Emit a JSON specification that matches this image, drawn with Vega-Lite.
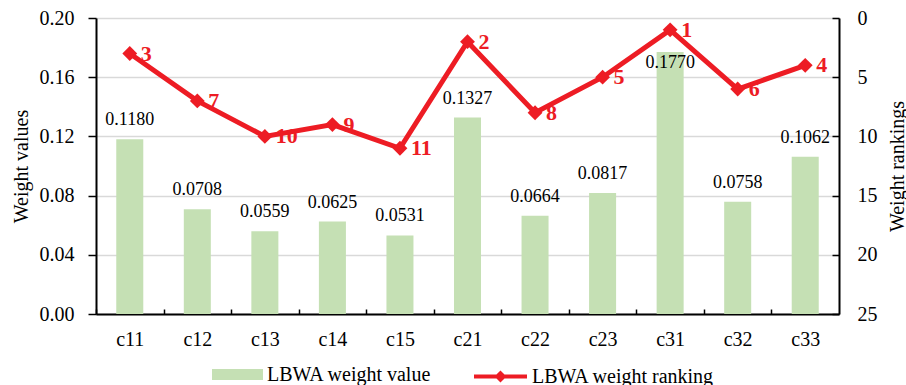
{
  "$schema": "https://vega.github.io/schema/vega-lite/v6.json",
  "width": 743,
  "height": 296,
  "autosize": {"type": "none"},
  "padding": {"left": 96, "top": 18, "right": 67, "bottom": 71},
  "background": "white",
  "config": {
    "font": "Liberation Serif",
    "view": {"stroke": null},
    "axis": {
      "labelFont": "Liberation Serif",
      "titleFont": "Liberation Serif",
      "labelColor": "#000000",
      "titleColor": "#000000",
      "labelFontSize": 20,
      "titleFontSize": 20,
      "titleFontWeight": "normal",
      "domainColor": "#000000",
      "domainWidth": 2,
      "tickColor": "#000000",
      "tickWidth": 1.5
    },
    "legend": {
      "labelFont": "Liberation Serif",
      "labelFontSize": 20,
      "labelColor": "#000000",
      "labelLimit": 400
    }
  },
  "data": {
    "values": [
      {"criterion": "c11", "weight": 0.1180, "rank": 3},
      {"criterion": "c12", "weight": 0.0708, "rank": 7},
      {"criterion": "c13", "weight": 0.0559, "rank": 10},
      {"criterion": "c14", "weight": 0.0625, "rank": 9},
      {"criterion": "c15", "weight": 0.0531, "rank": 11},
      {"criterion": "c21", "weight": 0.1327, "rank": 2},
      {"criterion": "c22", "weight": 0.0664, "rank": 8},
      {"criterion": "c23", "weight": 0.0817, "rank": 5},
      {"criterion": "c31", "weight": 0.1770, "rank": 1},
      {"criterion": "c32", "weight": 0.0758, "rank": 6},
      {"criterion": "c33", "weight": 0.1062, "rank": 4}
    ]
  },
  "encoding": {
    "x": {
      "field": "criterion",
      "type": "nominal",
      "sort": null,
      "scale": {"paddingInner": 0.6, "paddingOuter": 0.3},
      "axis": {
        "title": null,
        "labelAngle": 0,
        "ticks": true,
        "tickSize": -5,
        "tickOffset": -33.75,
        "labelOffset": 33.75,
        "labelPadding": 30,
        "labelBaseline": "middle"
      }
    }
  },
  "layer": [
    {
      "encoding": {
        "y": {
          "field": "weight",
          "type": "quantitative",
          "scale": {"domain": [0, 0.2], "nice": false},
          "axis": {
            "title": "Weight values",
            "values": [0, 0.04, 0.08, 0.12, 0.16, 0.2],
            "format": ".2f",
            "grid": true,
            "gridColor": "#D9D9D9",
            "gridWidth": 1.3,
            "tickSize": 8,
            "labelPadding": 14,
            "titlePadding": 8
          }
        }
      },
      "layer": [
        {
          "mark": {"type": "bar"},
          "encoding": {
            "fill": {
              "datum": "LBWA weight value",
              "type": "nominal",
              "scale": {"range": ["#C5E0B4"]},
              "legend": {
                "title": null,
                "orient": "none",
                "legendX": 116,
                "legendY": 331,
                "symbolType": "M-1,-0.216H1V0.216H-1Z",
                "symbolSize": 2601,
                "symbolStrokeWidth": 0,
                "labelOffset": 4
              }
            }
          }
        },
        {
          "transform": [{"filter": "datum.weight < 0.15"}],
          "mark": {
            "type": "text",
            "fontSize": 18,
            "color": "#000000",
            "baseline": "alphabetic",
            "dy": -14
          },
          "encoding": {
            "text": {"field": "weight", "type": "quantitative", "format": ".4f"}
          }
        },
        {
          "transform": [{"filter": "datum.weight >= 0.15"}],
          "mark": {
            "type": "text",
            "fontSize": 18,
            "color": "#000000",
            "baseline": "alphabetic",
            "dy": 16
          },
          "encoding": {
            "text": {"field": "weight", "type": "quantitative", "format": ".4f"}
          }
        }
      ]
    },
    {
      "encoding": {
        "y": {
          "field": "rank",
          "type": "quantitative",
          "scale": {"domain": [0, 25], "reverse": true, "nice": false},
          "axis": {
            "orient": "right",
            "title": "Weight rankings",
            "titleAngle": 270,
            "titleBaseline": "top",
            "values": [0, 5, 10, 15, 20, 25],
            "grid": false,
            "tickSize": -7,
            "labelPadding": 25,
            "titlePadding": 10
          }
        }
      },
      "layer": [
        {
          "mark": {"type": "line", "strokeWidth": 5},
          "encoding": {
            "stroke": {
              "datum": "LBWA weight ranking",
              "type": "nominal",
              "scale": {"range": ["#ED1C24"]},
              "legend": {
                "title": null,
                "orient": "none",
                "legendX": 376,
                "legendY": 330,
                "symbolType": "M-1,0H1M-0.12,0L0,-0.12L0.12,0L0,0.12Z",
                "symbolSize": 2809,
                "symbolStrokeWidth": 4,
                "symbolFillColor": "#ED1C24",
                "labelOffset": 3
              }
            }
          }
        },
        {
          "mark": {"type": "point", "shape": "diamond", "filled": true, "size": 220, "color": "#ED1C24", "opacity": 1}
        },
        {
          "mark": {
            "type": "text",
            "fontSize": 22,
            "fontWeight": "bold",
            "color": "#ED1C24",
            "align": "left",
            "baseline": "alphabetic",
            "dx": 11,
            "dy": 7
          },
          "encoding": {
            "text": {"field": "rank", "type": "quantitative"}
          }
        }
      ]
    }
  ],
  "resolve": {"scale": {"y": "independent"}}
}
